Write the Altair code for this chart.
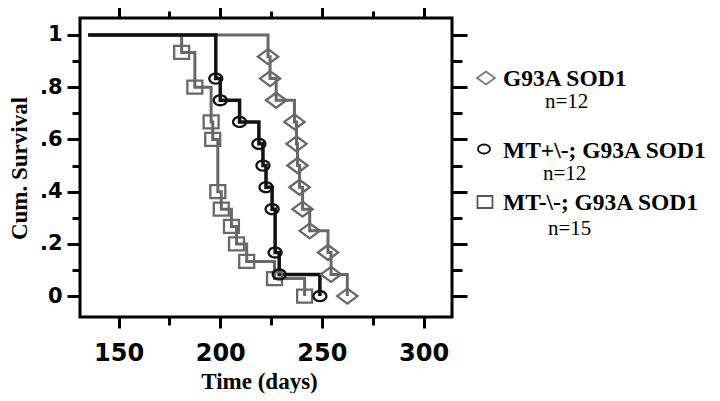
import math
import altair as alt
import pandas as pd

# ---------------- data ----------------
START_DAY = 135
SERIES = ["G93A SOD1", "MT+\\-; G93A SOD1", "MT-\\-; G93A SOD1"]
N_LABELS = ["n=12", "n=12", "n=15"]

sod_days = [223.5, 224.5, 227.5, 236.5, 237.5, 238, 239, 240.5, 244, 253, 254.5, 262.5]
sod_surv = [0.917, 0.833, 0.75, 0.667, 0.583, 0.5, 0.417, 0.333, 0.25, 0.167, 0.083, 0.0]

het_days = [197.8, 200, 209.5, 219, 221, 222.5, 225.5, 227, 229, 249]
het_surv = [0.833, 0.75, 0.667, 0.583, 0.5, 0.417, 0.333, 0.167, 0.083, 0.0]

ko_days = [181, 187.5, 195.5, 196.3, 198.8, 200.5, 205.5, 208, 213, 226.7, 241.5]
ko_surv = [0.933, 0.8, 0.667, 0.6, 0.4, 0.333, 0.267, 0.2, 0.133, 0.067, 0.0]

X_TICKS = [150, 175, 200, 225, 250, 275, 300]
Y_TICKS = [i / 10 for i in range(11)]

# ---------------- styling ----------------
GRAY = "#686868"
BLACK = "#111111"
LABEL_FONT = "DejaVu Sans"
SERIF = "Liberation Serif"


def ellipse(rx, ry, n=28):
    pts = []
    for k in range(n):
        a = 2 * math.pi * k / n
        pts.append(f"{rx * math.cos(a):.3f},{ry * math.sin(a):.3f}")
    return "M" + "L".join(pts) + "Z"


DIAMOND = "M-1.35,0L0,-1L1.35,0L0,1Z"
SQUARE = "M-1.15,-1L1.15,-1L1.15,1L-1.15,1Z"
OVAL = ellipse(1.3, 1.0)
LEG_DIAMOND = "M-1.38,0L0,-1L1.38,0L0,1Z"
LEG_SQUARE = "M-1.25,-1L1.25,-1L1.25,1L-1.25,1Z"
LEG_OVAL = ellipse(1.33, 1.0)

xscale = alt.Scale(domain=[131, 314], nice=False, zero=False)
yscale = alt.Scale(domain=[-0.08, 1.065], nice=False, zero=False)

x_major = "datum.value % 50 === 0"
y_major = "round(datum.value * 10) % 2 === 0"

x_axis_bottom = alt.Axis(
    orient="bottom", values=X_TICKS, domain=False, grid=False,
    tickColor="black", tickWidth=3,
    tickSize={"condition": {"test": x_major, "value": 11}, "value": 8},
    labelExpr=f"{x_major} ? datum.label : ''",
    labelFont=LABEL_FONT, labelFontSize=24, labelFontWeight="bold",
    labelColor="black", labelPadding=13,
    title="Time (days)", titleFont=SERIF, titleFontSize=23,
    titleFontWeight="bold", titleColor="black",
    titleX=179, titleY=71, titleBaseline="alphabetic", titleAlign="center",
)
y_axis_left = alt.Axis(
    orient="left", values=Y_TICKS, domain=False, grid=False,
    tickColor="black", tickWidth=3,
    tickSize={"condition": {"test": y_major, "value": 13}, "value": 8},
    labelExpr=(f"{y_major} ? (datum.value >= 1 ? '1' : datum.value <= 0 ? '0' : "
               "'.' + round(datum.value * 10)) : ''"),
    labelFont=LABEL_FONT, labelFontSize=21, labelFontWeight="bold",
    labelColor="black", labelPadding=5,
    title="Cum. Survival", titleFont=SERIF, titleFontSize=23,
    titleFontWeight="bold", titleColor="black",
    titleX=-61, titleY=150, titleAngle=-90, titleBaseline="middle",
    titleAlign="center",
)
x_axis_top = alt.Axis(
    orient="top", values=X_TICKS, domain=False, grid=False, labels=False,
    tickColor="black", tickWidth=3,
    tickSize={"condition": {"test": x_major, "value": 11}, "value": 7},
    title="",
)
y_axis_right = alt.Axis(
    orient="right", values=Y_TICKS, domain=False, grid=False, labels=False,
    tickColor="black", tickWidth=3,
    tickSize={"condition": {"test": y_major, "value": 15}, "value": 10},
    title="",
)


def step_frame(days, surv):
    return pd.DataFrame({"day": [START_DAY] + days, "surv": [1.0] + surv})


def event_frame(days, surv):
    return pd.DataFrame({"day": days, "surv": surv})


series_specs = [
    (sod_days, sod_surv, GRAY, DIAMOND, 225, 3),
    (ko_days, ko_surv, GRAY, SQUARE, 169, 3),
    (het_days, het_surv, BLACK, OVAL, 100, 3.5),
]

layers = []
for i, (days, surv, color, shape, size, lw) in enumerate(series_specs):
    first = i == 0
    line = alt.Chart(step_frame(days, surv)).mark_line(
        interpolate="step-after", color=color, strokeWidth=lw
    ).encode(
        x=alt.X("day:Q", scale=xscale, axis=x_axis_bottom if first else None),
        y=alt.Y("surv:Q", scale=yscale, axis=y_axis_left if first else None),
    )
    layers.append(line)

for i, (days, surv, color, shape, size, lw) in enumerate(series_specs):
    pts = alt.Chart(event_frame(days, surv)).mark_point(
        shape=shape, size=size, filled=False, color=color, strokeWidth=2.3, opacity=1
    ).encode(
        x=alt.X("day:Q", scale=xscale, axis=None),
        y=alt.Y("surv:Q", scale=yscale, axis=None),
    )
    layers.append(pts)

# invisible layer carrying the top and right tick axes
frame_axes = alt.Chart(step_frame(sod_days, sod_surv)).mark_line(opacity=0).encode(
    x=alt.X("day:Q", scale=xscale, axis=x_axis_top),
    y=alt.Y("surv:Q", scale=yscale, axis=y_axis_right),
)
layers.append(frame_axes)

# ---------------- legend ----------------
LEG_SYM_X = [406, 404, 405]
LEG_SYM_Y = [60, 131, 184]
LEG_NAME_Y = [68, 140, 192]
LEG_N_X = [465, 463, 468]
LEG_N_Y = [90, 162, 217]
LEG_SHAPES = [(LEG_DIAMOND, 169, "#777777"), (LEG_OVAL, 81, BLACK), (LEG_SQUARE, 144, "#555555")]

for i, name in enumerate(SERIES):
    df = pd.DataFrame({"name": [name], "n": [N_LABELS[i]]})
    shp, sz, col = LEG_SHAPES[i]
    layers.append(
        alt.Chart(df).mark_point(shape=shp, size=sz, filled=False, color=col,
                                 strokeWidth=1.8, opacity=1)
        .encode(x=alt.value(LEG_SYM_X[i]), y=alt.value(LEG_SYM_Y[i]))
    )
    layers.append(
        alt.Chart(df).mark_text(align="left", baseline="alphabetic", font=SERIF,
                                fontSize=23.5, fontWeight="bold", color="black")
        .encode(x=alt.value(423), y=alt.value(LEG_NAME_Y[i]), text="name:N")
    )
    layers.append(
        alt.Chart(df).mark_text(align="left", baseline="alphabetic", font=SERIF,
                                fontSize=21, color="black")
        .encode(x=alt.value(LEG_N_X[i]), y=alt.value(LEG_N_Y[i]), text="n:N")
    )

chart = (
    alt.layer(*layers)
    .resolve_axis(x="independent", y="independent")
    .properties(
        width=372, height=299,
        padding={"left": 72, "top": 10, "right": 260, "bottom": 76},
        autosize=alt.AutoSizeParams(type="none"),
        background="white",
    )
    .configure_view(stroke="black", strokeWidth=3)
)

chart.save("out.html", embed_options={"renderer": "svg", "actions": False})
